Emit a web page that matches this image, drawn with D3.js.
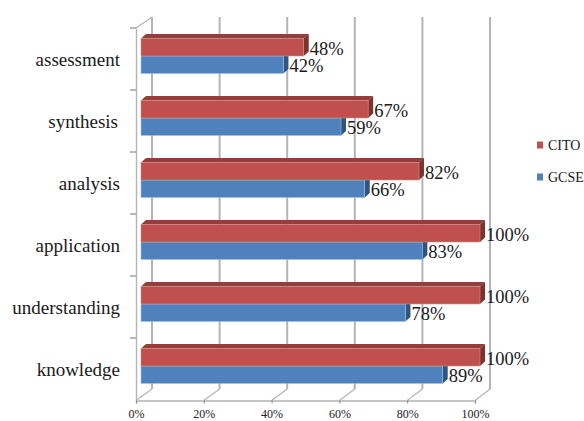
<!DOCTYPE html>
<html>
<head>
<meta charset="utf-8">
<script src="https://cdn.jsdelivr.net/npm/d3@7/dist/d3.min.js"></script>
<style>
    html, body { margin: 0; padding: 0; background: #fff; overflow: hidden; }
    text { font-family: "Liberation Serif", serif; fill: #1a1a1a; }
</style>
</head>
<body>
<div id="chart"></div>
<script>
const categories = ["assessment", "synthesis", "analysis", "application", "understanding", "knowledge"];
const citoValues = [48, 67, 82, 100, 100, 100];
const gcseValues = [42, 59, 66, 83, 78, 89];
const xTicks = [0, 20, 40, 60, 80, 100];
const seriesNames = ["CITO", "GCSE"];

const width = 584;
const height = 421;
const gridColor = "#b4b4b4";
const colors = {
    CITO: { front: "#c0504d", top: "#953d3a", side: "#7d3230", edge: "#d08d8b" },
    GCSE: { front: "#4f81bd", top: "#3a6391", side: "#2f5480", edge: "#a3c0e2" }
};

const depthX = 5;
const depthY = 4.5;
const barHeight = 17.5;

const svg = d3.select("#chart")
    .append("svg")
    .attr("width", width)
    .attr("height", height);

// front edge of the floor, back wall and the bars are three shifted copies of the same axis
const xFront = d3.scaleLinear().domain([0, 100]).range([136, 475]);
const xBack = d3.scaleLinear().domain([0, 100]).range([152, 490]);
const xBar = d3.scaleLinear().domain([0, 100]).range([141, 480]);
const yScale = d3.scaleBand().domain(categories).range([28, 400]);

const floorY = 400.5;
const backFloorY = 389;
const backTopY = 17;

// grid on back wall and floor
svg.selectAll("line.grid")
    .data(xTicks)
    .enter()
    .append("line")
    .attr("class", "grid")
    .attr("x1", d => xBack(d))
    .attr("x2", d => xBack(d))
    .attr("y1", backTopY)
    .attr("y2", backFloorY)
    .attr("stroke", gridColor)
    .attr("stroke-width", 2);

svg.selectAll("line.floor")
    .data(xTicks)
    .enter()
    .append("line")
    .attr("class", "floor")
    .attr("x1", d => xFront(d))
    .attr("x2", d => xBack(d))
    .attr("y1", floorY)
    .attr("y2", backFloorY)
    .attr("stroke", gridColor)
    .attr("stroke-width", 1.2);

// left wall top edge
svg.append("line")
    .attr("x1", xFront(0))
    .attr("x2", xBack(0))
    .attr("y1", 28)
    .attr("y2", backTopY)
    .attr("stroke", gridColor)
    .attr("stroke-width", 1.2);

const xAxis = d3.axisBottom(xFront)
    .tickValues(xTicks)
    .tickFormat(d => d + "%")
    .tickSize(3)
    .tickPadding(6);
const yAxis = d3.axisLeft(yScale).tickSize(0).tickFormat("");

const xAxisG = svg.append("g")
    .attr("transform", "translate(0," + floorY + ")")
    .call(xAxis);
xAxisG.select(".domain").attr("stroke", "#8c8c8c").attr("stroke-width", 1.2);
xAxisG.selectAll(".tick line").attr("stroke", "#8c8c8c");
xAxisG.selectAll("text").style("font-size", "12px").style("fill", "#222");

const yAxisG = svg.append("g")
    .attr("transform", "translate(" + xFront(0) + ",0)")
    .call(yAxis);
yAxisG.select(".domain").attr("stroke", gridColor).attr("stroke-width", 1.4);

// band edges as tick marks
svg.selectAll("line.ytick")
    .data(categories)
    .enter()
    .append("line")
    .attr("class", "ytick")
    .attr("x1", xFront(0) - 6)
    .attr("x2", xFront(0))
    .attr("y1", d => yScale(d))
    .attr("y2", d => yScale(d))
    .attr("stroke", "#8c8c8c")
    .attr("stroke-width", 1.2);

svg.selectAll("text.cat")
    .data(categories)
    .enter()
    .append("text")
    .attr("class", "cat")
    .attr("x", d => d === "synthesis" ? 118 : 120)
    .attr("y", d => yScale(d) + yScale.bandwidth() / 2 + 1)
    .attr("dy", "0.32em")
    .attr("text-anchor", "end")
    .style("font-size", "19px")
    .text(d => d);

function drawBars(name, values, offset) {
    const c = colors[name];
    const rows = categories.map((cat, i) => ({
        value: values[i],
        x1: xBar(values[i]),
        y: yScale(cat) + yScale.bandwidth() / 2 - 3 + offset
    }));
    const g = svg.append("g").attr("class", "series-" + name);

    g.selectAll("polygon.top")
        .data(rows)
        .enter()
        .append("polygon")
        .attr("class", "top")
        .attr("points", d => [
            [xBar(0), d.y],
            [xBar(0) + depthX, d.y - depthY],
            [d.x1 + depthX, d.y - depthY],
            [d.x1, d.y]
        ].join(" "))
        .attr("fill", c.top);

    g.selectAll("polygon.side")
        .data(rows)
        .enter()
        .append("polygon")
        .attr("class", "side")
        .attr("points", d => [
            [d.x1, d.y],
            [d.x1 + depthX, d.y - depthY],
            [d.x1 + depthX, d.y + barHeight - depthY],
            [d.x1, d.y + barHeight]
        ].join(" "))
        .attr("fill", c.side);

    g.selectAll("rect.front")
        .data(rows)
        .enter()
        .append("rect")
        .attr("class", "front")
        .attr("x", xBar(0))
        .attr("y", d => d.y)
        .attr("width", d => d.x1 - xBar(0))
        .attr("height", barHeight)
        .attr("fill", c.front)
        .attr("stroke", c.edge)
        .attr("stroke-width", 0.6);

    g.selectAll("text.value")
        .data(rows)
        .enter()
        .append("text")
        .attr("class", "value")
        .attr("x", d => d.x1 + depthX + 1)
        .attr("y", d => d.y + barHeight / 2 + 1)
        .attr("dy", "0.36em")
        .style("font-size", "18.5px")
        .text(d => d.value + "%");
}

// GCSE first so the CITO top face sits over it
drawBars("GCSE", gcseValues, 0);
drawBars("CITO", citoValues, -barHeight);

const legendY = d3.scalePoint().domain(seriesNames).range([145, 177]);

svg.selectAll("rect.legend")
    .data(seriesNames)
    .enter()
    .append("rect")
    .attr("class", "legend")
    .attr("x", 537)
    .attr("y", d => legendY(d) - 3.5)
    .attr("width", 6)
    .attr("height", 7)
    .attr("fill", d => colors[d].front);

svg.selectAll("text.legend")
    .data(seriesNames)
    .enter()
    .append("text")
    .attr("class", "legend")
    .attr("x", 548)
    .attr("y", d => legendY(d))
    .attr("dy", "0.34em")
    .style("font-size", "14px")
    .text(d => d);
</script>
</body>
</html>
